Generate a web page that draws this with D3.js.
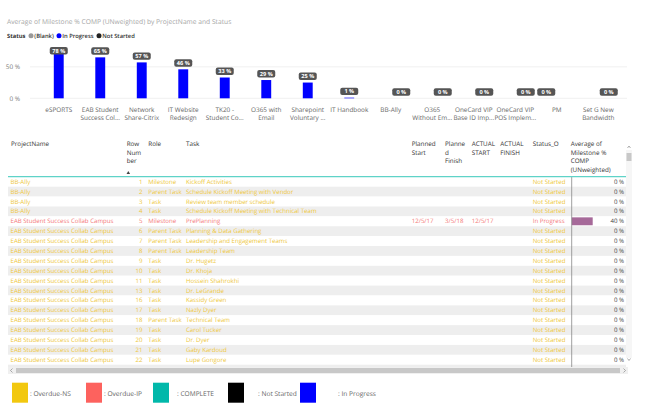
<!DOCTYPE html>
<html>
<head>
<meta charset="utf-8">
<script src="https://cdn.jsdelivr.net/npm/d3@7"></script>
<style>
  body { margin: 0; background: #fff; }
  svg { font-family: 'Open Sans', 'DejaVu Sans', sans-serif; text-rendering: geometricPrecision; }
</style>
</head>
<body>
<svg class="chart" width="654" height="412"></svg>
<script>
'use strict'

// bar chart data
const projects = ['eSPORTS', 'EAB Student Success Col...', 'Network Share-Citrix', 'IT Website Redesign',
  'TK20 - Student Co...', 'O365 with Email', 'Sharepoint Voluntary ...', 'IT Handbook', 'BB-Ally',
  'O365 Without Em...', 'OneCard VIP Base ID Imp...', 'OneCard VIP POS Implem...', 'PM', 'Set G New Bandwidth']
const projectLines = [['eSPORTS'], ['EAB Student', 'Success Col...'], ['Network', 'Share-Citrix'], ['IT Website', 'Redesign'],
  ['TK20 -', 'Student Co...'], ['O365 with', 'Email'], ['Sharepoint', 'Voluntary ...'], ['IT Handbook'], ['BB-Ally'],
  ['O365', 'Without Em...'], ['OneCard VIP', 'Base ID Imp...'], ['OneCard VIP', 'POS Implem...'], ['PM'], ['Set G New', 'Bandwidth']]
const projectStatus = ['In Progress', 'In Progress', 'In Progress', 'In Progress', 'In Progress', 'In Progress',
  'In Progress', 'In Progress', 'Not Started', 'Not Started', 'Not Started', 'Not Started', '(Blank)', 'Not Started']
const projectPct = [0.78, 0.65, 0.57, 0.46, 0.33, 0.29, 0.25, 0.01, 0, 0, 0, 0, 0, 0]
const statusNames = ['(Blank)', 'In Progress', 'Not Started']
const statusColors = ['#999999', '#0000ff', '#222222']
const yTicks = [0, 0.5]

// table data
const rowProject = ['BB-Ally', 'BB-Ally', 'BB-Ally', 'BB-Ally']
  .concat(Array(16).fill('EAB Student Success Collab Campus'))
const rowNumber = [1, 2, 3, 4, 5, 6, 7, 8, 9, 10, 11, 13, 16, 17, 18, 19, 20, 21, 22, 23]
const rowRole = ['Milestone', 'Parent Task', 'Task', 'Task', 'Milestone', 'Parent Task', 'Parent Task', 'Parent Task',
  'Task', 'Task', 'Task', 'Task', 'Task', 'Task', 'Parent Task', 'Task', 'Task', 'Task', 'Task', 'Task']
const rowTask = ['Kickoff Activities', 'Schedule Kickoff Meeting with Vendor', 'Review team member schedule',
  'Schedule Kickoff Meeting with Technical Team', 'PrePlanning', 'Planning & Data Gathering',
  'Leadership and Engagement Teams', 'Leadership Team', 'Dr. Hugetz', 'Dr. Khoja', 'Hossein Shahrokhi',
  'Dr. LeGrande', 'Kassidy Green', 'Nazly Dyer', 'Technical Team', 'Carol Tucker', 'Dr. Dyer', 'Gaby Kardoud',
  'Lupe Gongore', 'Kerry Hines']
const rowPlannedStart = ['', '', '', '', '12/5/17', '', '', '', '', '', '', '', '', '', '', '', '', '', '', '']
const rowPlannedFinish = ['', '', '', '', '3/5/18', '', '', '', '', '', '', '', '', '', '', '', '', '', '', '']
const rowActualStart = ['', '', '', '', '12/5/17', '', '', '', '', '', '', '', '', '', '', '', '', '', '', '']
const rowStatus = ['Not Started', 'Not Started', 'Not Started', 'Not Started', 'In Progress']
  .concat(Array(15).fill('Not Started'))
const rowPct = [0, 0, 0, 0, 0.40, 0, 0, 0, 0, 0, 0, 0, 0, 0, 0, 0, 0, 0, 0, 0]
const rowFlag = ['Overdue-NS', 'Overdue-NS', 'Overdue-NS', 'Overdue-NS', 'Overdue-IP']
  .concat(Array(15).fill('Overdue-NS'))

// legend
const legendNames = ['Overdue-NS', 'Overdue-IP', 'COMPLETE', 'Not Started', 'In Progress']
const legendColors = ['#f2c80f', '#fd625e', '#01b8aa', '#000000', '#0000ff']
const legendX = [12, 86, 153, 228, 300]
const legendTextX = [30, 104, 177, 258, 338]

const textColor = { 'Overdue-NS': '#eec73a', 'Overdue-IP': '#f4787a' }

const svg = d3.select('.chart')

// ---------- title + legend ----------
svg.append('text')
  .attr('x', 7).attr('y', 24)
  .attr('font-size', 6.7).attr('fill', '#a6a6a6')
  .text('Average of Milestone % COMP (UNweighted) by ProjectName and Status')

const lg = svg.append('g').attr('font-size', 5.8).attr('fill', '#333')
lg.append('text').attr('x', 7).attr('y', 38).attr('font-weight', 'bold').text('Status')
const lgX = [31, 59, 99]
statusNames.forEach((s, i) => {
  lg.append('circle').attr('cx', lgX[i]).attr('cy', 35.8).attr('r', 2.5).attr('fill', statusColors[i])
  lg.append('text').attr('x', lgX[i] + 3.3).attr('y', 38).attr('font-weight', 600).text(s)
})

// ---------- bar chart ----------
const y = d3.scaleLinear().domain([0, 1]).range([98.3, 35.3])
const x = d3.scalePoint().domain(projects).range([38, 619]).padding(0.5)
const sub = d3.scaleBand().domain(statusNames).range([-15.75, 15.75])

svg.append('g').selectAll('line').data(yTicks).join('line')
  .attr('x1', 30).attr('x2', 627)
  .attr('y1', d => y(d)).attr('y2', d => y(d))
  .attr('stroke', '#ececec').attr('stroke-width', 0.8)

svg.append('g').selectAll('text').data(yTicks).join('text')
  .attr('x', 20).attr('y', d => y(d) + 2.2)
  .attr('text-anchor', 'end').attr('font-size', 6.4).attr('fill', '#777')
  .text(d => d3.format('.0%')(d).replace('%', ' %'))

const bars = projects.map((p, i) => ({ p, v: projectPct[i], s: projectStatus[i], lines: projectLines[i] }))

svg.append('g').selectAll('rect').data(bars).join('rect')
  .attr('x', d => x(d.p) + sub(d.s) + 0.3)
  .attr('width', sub.bandwidth() - 0.6)
  .attr('y', d => y(d.v))
  .attr('height', d => y(0) - y(d.v))
  .attr('fill', d => statusColors[statusNames.indexOf(d.s)])

const lab = svg.append('g').selectAll('g').data(bars).join('g')
  .attr('transform', d => {
    const cx = x(d.p) + sub(d.s) + sub.bandwidth() / 2
    const cy = Math.max(47, y(d.v) - 10)
    return `translate(${cx},${cy})`
  })
lab.append('rect')
  .attr('x', -9).attr('width', 18).attr('y', 0).attr('height', 7.4).attr('rx', 2)
  .attr('fill', '#555')
lab.append('text')
  .attr('y', 5.6).attr('text-anchor', 'middle')
  .attr('font-size', 5.6).attr('font-weight', 'bold').attr('fill', '#fff')
  .text(d => Math.round(d.v * 100) + ' %')

const xl = svg.append('g').selectAll('text').data(bars).join('text')
  .attr('x', d => x(d.p)).attr('y', 111.6)
  .attr('text-anchor', 'middle').attr('font-size', 6.4).attr('fill', '#666')
xl.selectAll('tspan').data(d => d.lines).join('tspan')
  .attr('x', function () { return d3.select(this.parentNode).attr('x') })
  .attr('dy', (d, i) => i === 0 ? 0 : 8.2)
  .text(d => d)

// ---------- table ----------
const rowTop = 176.8
const rowH = 9.89
const tbl = svg.append('g')

const clip = svg.append('clipPath').attr('id', 'tclip')
clip.append('rect').attr('x', 0).attr('y', rowTop).attr('width', 654).attr('height', 367 - rowTop)

const body = tbl.append('g').attr('clip-path', 'url(#tclip)')
const rows = rowNumber.map((n, i) => ({
  i, n, proj: rowProject[i], role: rowRole[i], task: rowTask[i], ps: rowPlannedStart[i],
  pf: rowPlannedFinish[i], as: rowActualStart[i], st: rowStatus[i], pct: rowPct[i], flag: rowFlag[i]
}))

body.selectAll('rect.bg').data(rows).join('rect')
  .attr('class', 'bg')
  .attr('x', 8).attr('width', 618)
  .attr('y', d => rowTop + d.i * rowH).attr('height', rowH)
  .attr('fill', d => d.i % 2 ? '#eeeeee' : '#ffffff')

const pctW = d3.scaleLinear().domain([0, 1]).range([0, 52.5])
body.selectAll('rect.pb').data(rows.filter(d => d.pct > 0)).join('rect')
  .attr('class', 'pb')
  .attr('x', 571.7).attr('width', d => pctW(d.pct))
  .attr('y', d => rowTop + d.i * rowH + 1).attr('height', rowH - 2)
  .attr('fill', '#a66999')

const cells = [
  { k: 'proj', x: 10.5, a: 'start' },
  { k: 'n', x: 142.5, a: 'end' },
  { k: 'role', x: 148.3, a: 'start' },
  { k: 'task', x: 186, a: 'start' },
  { k: 'ps', x: 411.7, a: 'start' },
  { k: 'pf', x: 445, a: 'start' },
  { k: 'as', x: 471.7, a: 'start' },
  { k: 'st', x: 532.7, a: 'start' }
]
const rg = body.selectAll('g.r').data(rows).join('g')
  .attr('class', 'r')
  .attr('transform', d => `translate(0,${rowTop + d.i * rowH + 7})`)
  .attr('font-size', 6.1)
cells.forEach(c => {
  rg.append('text')
    .attr('x', c.x).attr('text-anchor', c.a)
    .attr('fill', d => textColor[d.flag])
    .text(d => d[c.k])
})
rg.append('text')
  .attr('x', 624).attr('text-anchor', 'end').attr('fill', '#444')
  .text(d => Math.round(d.pct * 100) + ' %')

body.append('line')
  .attr('x1', 571.7).attr('x2', 571.7).attr('y1', rowTop).attr('y2', 370)
  .attr('stroke', '#888').attr('stroke-width', 0.8)

tbl.append('line')
  .attr('x1', 8).attr('x2', 626).attr('y1', 176.7).attr('y2', 176.7)
  .attr('stroke', '#5fd3c8').attr('stroke-width', 1.2)

// header
const headers = [
  { x: 11, lines: ['ProjectName'] },
  { x: 126.7, lines: ['Row', 'Num', 'ber'] },
  { x: 148.3, lines: ['Role'] },
  { x: 186, lines: ['Task'] },
  { x: 411.7, lines: ['Planned', 'Start'] },
  { x: 445, lines: ['Planne', 'd', 'Finish'] },
  { x: 471.7, lines: ['ACTUAL', 'START'] },
  { x: 500.3, lines: ['ACTUAL', 'FINISH'] },
  { x: 532.7, lines: ['Status_O'] },
  { x: 570.7, lines: ['Average of', 'Milestone %', 'COMP', '(UNweighted)'] }
]
const hg = tbl.append('g').attr('font-size', 6.3).attr('fill', '#333')
headers.forEach(h => {
  h.lines.forEach((l, j) => {
    hg.append('text').attr('x', h.x).attr('y', 146 + j * 8.5).text(l)
  })
})
hg.append('path')
  .attr('d', 'M126.5,174 L128.3,171 L130.1,174 Z')
  .attr('fill', '#444')

// vertical scrollbar
tbl.append('rect').attr('x', 626).attr('y', 150).attr('width', 6).attr('height', 208).attr('fill', '#f6f6f6')
tbl.append('rect').attr('x', 626.5).attr('y', 153).attr('width', 5).attr('height', 8).attr('fill', '#c8c8c8')
tbl.append('path').attr('d', 'M627.5,148 L629,146 L630.5,148').attr('fill', 'none').attr('stroke', '#777').attr('stroke-width', 0.6)
tbl.append('path').attr('d', 'M627.5,358.5 L629,360.5 L630.5,358.5').attr('fill', 'none').attr('stroke', '#777').attr('stroke-width', 0.6)

// horizontal scrollbar
tbl.append('rect').attr('x', 8).attr('y', 367).attr('width', 620).attr('height', 7).attr('fill', '#f0f0f0')
tbl.append('rect').attr('x', 16).attr('y', 368).attr('width', 604).attr('height', 5).attr('fill', '#c8c8c8')
tbl.append('path').attr('d', 'M12.5,368.5 L10.5,370.5 L12.5,372.5').attr('fill', 'none').attr('stroke', '#777').attr('stroke-width', 0.6)
tbl.append('path').attr('d', 'M623.5,368.5 L625.5,370.5 L623.5,372.5').attr('fill', 'none').attr('stroke', '#777').attr('stroke-width', 0.6)

// ---------- bottom legend ----------
const bl = svg.append('g')
bl.selectAll('rect').data(legendNames).join('rect')
  .attr('x', (d, i) => legendX[i]).attr('y', 382.7)
  .attr('width', 16).attr('height', 20)
  .attr('fill', (d, i) => legendColors[i])
bl.selectAll('text').data(legendNames).join('text')
  .attr('x', (d, i) => legendTextX[i]).attr('y', 395.5)
  .attr('font-size', 6.6).attr('fill', '#666')
  .text(d => ': ' + d)
</script>
</body>
</html>
